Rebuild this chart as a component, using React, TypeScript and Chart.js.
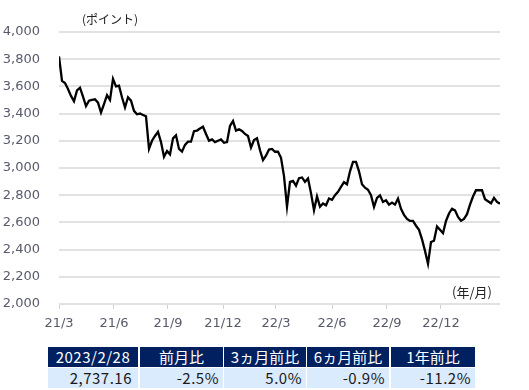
import React, { useEffect, useRef } from "react";
import { Chart, registerables } from "chart.js";

Chart.register(...registerables);

// Index level, sampled evenly from 2021/3/1 to 2023/2/28 (points)
const indexValues: number[] = [
  3820, 3640, 3625, 3580, 3530, 3490, 3570, 3590, 3525, 3455,
  3495, 3500, 3505, 3480, 3408, 3470, 3535, 3500, 3655, 3600,
  3605, 3520, 3445, 3520, 3495, 3420, 3395, 3400, 3390, 3380,
  3140, 3200, 3235, 3265, 3190, 3082, 3125, 3100, 3218, 3240,
  3140, 3120, 3170, 3193, 3193, 3270, 3275, 3290, 3303, 3250,
  3200, 3210, 3190, 3200, 3210, 3185, 3190, 3310, 3345, 3275,
  3285, 3272, 3250, 3235, 3150, 3205, 3218, 3130, 3058, 3090,
  3135, 3140, 3119, 3119, 3075, 2940, 2715, 2898, 2905, 2870,
  2925, 2930, 2898, 2922, 2815, 2689, 2790, 2715, 2738, 2725,
  2775, 2765, 2800, 2825, 2861, 2895, 2880, 2975, 3045, 3045,
  2975, 2880, 2855, 2840, 2800, 2713, 2780, 2799, 2750, 2762,
  2730, 2745, 2730, 2775, 2700, 2655, 2625, 2610, 2610, 2575,
  2545, 2475, 2390, 2295, 2455, 2465, 2570, 2545, 2520, 2610,
  2665, 2700, 2688, 2640, 2612, 2625, 2660, 2730, 2790, 2836,
  2836, 2836, 2770, 2755, 2740, 2780, 2750, 2737.16,
];

// Month-tick labels and where they fall on the sample index
const tickLabels: string[] = ["21/3", "21/6", "21/9", "21/12", "22/3", "22/6", "22/9", "22/12"];
const tickIndex: number[] = [0, 18.33, 36.33, 54.67, 72.33, 91, 109.33, 127.33];

const yMin = 2000;
const yMax = 4000;
const yStep = 200;

const yUnitLabel = "(ポイント)";
const xUnitLabel = "(年/月)";

const tableHeaders: string[] = ["2023/2/28", "前月比", "3ヵ月前比", "6ヵ月前比", "1年前比"];
const tableValues: string[] = ["2,737.16", "-2.5%", "5.0%", "-0.9%", "-11.2%"];

// layout
const colLefts = [48, 140, 224, 307, 391];
const colWidths = [90, 83, 82, 82, 84];
const AXIS_COLOR = "#585a6c";
const CJK = '"Noto Sans CJK JP", "Noto Sans", sans-serif';

export default function App() {
  const canvasRef = useRef<HTMLCanvasElement | null>(null);

  useEffect(() => {
    const canvas = canvasRef.current;
    if (!canvas) return;
    const points = indexValues.map((v, i) => ({ x: i, y: v }));
    const chart = new Chart(canvas, {
      type: "line",
      data: {
        datasets: [
          {
            data: points,
            borderColor: "#000000",
            borderWidth: 2.3,
            pointRadius: 0,
            tension: 0,
            fill: false,
          },
        ],
      },
      options: {
        animation: false,
        responsive: false,
        maintainAspectRatio: false,
        devicePixelRatio: 1,
        layout: { padding: { top: 32, right: 29, left: 0, bottom: 1.5 } },
        plugins: { legend: { display: false }, tooltip: { enabled: false }, title: { display: false } },
        scales: {
          x: {
            type: "linear",
            min: 0,
            max: indexValues.length - 1,
            afterBuildTicks: (scale: any) => {
              scale.ticks = tickIndex.map((v) => ({ value: v }));
            },
            ticks: {
              autoSkip: false,
              maxRotation: 0,
              padding: 7,
              color: AXIS_COLOR,
              font: { family: '"DejaVu Sans", sans-serif', size: 13 },
              callback: (_v: any, i: number) => tickLabels[i],
            },
            grid: {
              drawOnChartArea: false,
              drawTicks: true,
              tickLength: 5,
              color: "#d0d0d0",
              lineWidth: 1,
            },
            border: { display: false },
          },
          y: {
            min: yMin,
            max: yMax,
            afterFit: (scale: any) => {
              scale.width = 59;
            },
            ticks: {
              stepSize: yStep,
              padding: 19,
              color: AXIS_COLOR,
              font: { family: '"DejaVu Sans", sans-serif', size: 13 },
              callback: (v: any) => Number(v).toLocaleString("en-US"),
            },
            grid: { drawTicks: false, color: "#e2e2e2", lineWidth: 2 },
            border: { display: false },
          },
        },
      },
    });
    return () => chart.destroy();
  }, []);

  return (
    <div style={{ position: "fixed", left: 0, top: 0, width: 529, height: 390, background: "#fff" }}>
      <canvas ref={canvasRef} width={529} height={340} style={{ position: "absolute", left: 0, top: 0, width: 529, height: 340 }} />
      <span
        style={{ position: "absolute", left: 82, top: 11, fontFamily: CJK, fontSize: 12, lineHeight: "16px", color: "#222", whiteSpace: "nowrap" }}
      >
        {yUnitLabel}
      </span>
      <span
        style={{ position: "absolute", left: 452, top: 284, fontFamily: CJK, fontSize: 13, lineHeight: "16px", color: "#222", whiteSpace: "nowrap" }}
      >
        {xUnitLabel}
      </span>
      {tableHeaders.map((h, i) => (
        <div
          key={"h" + i}
          style={{
            position: "absolute",
            left: colLefts[i],
            top: 347,
            width: colWidths[i],
            height: 20,
            background: "#002060",
            color: "#ffffff",
            fontFamily: CJK,
            fontSize: 15,
            lineHeight: "20px",
            textAlign: "center",
            whiteSpace: "nowrap",
            letterSpacing: i === 0 ? "0.5px" : "0px",
          }}
        >
          {h}
        </div>
      ))}
      {tableValues.map((v, i) => (
        <div
          key={"v" + i}
          style={{
            position: "absolute",
            left: colLefts[i],
            top: 368,
            width: colWidths[i],
            height: 20,
            boxSizing: "border-box",
            paddingRight: i === 0 ? 6 : 4,
            background: "#daebfd",
            color: "#1a1a1a",
            fontFamily: CJK,
            fontSize: 15,
            lineHeight: "20px",
            textAlign: "right",
            whiteSpace: "nowrap",
            letterSpacing: "0.5px",
          }}
        >
          {v}
        </div>
      ))}
    </div>
  );
}
